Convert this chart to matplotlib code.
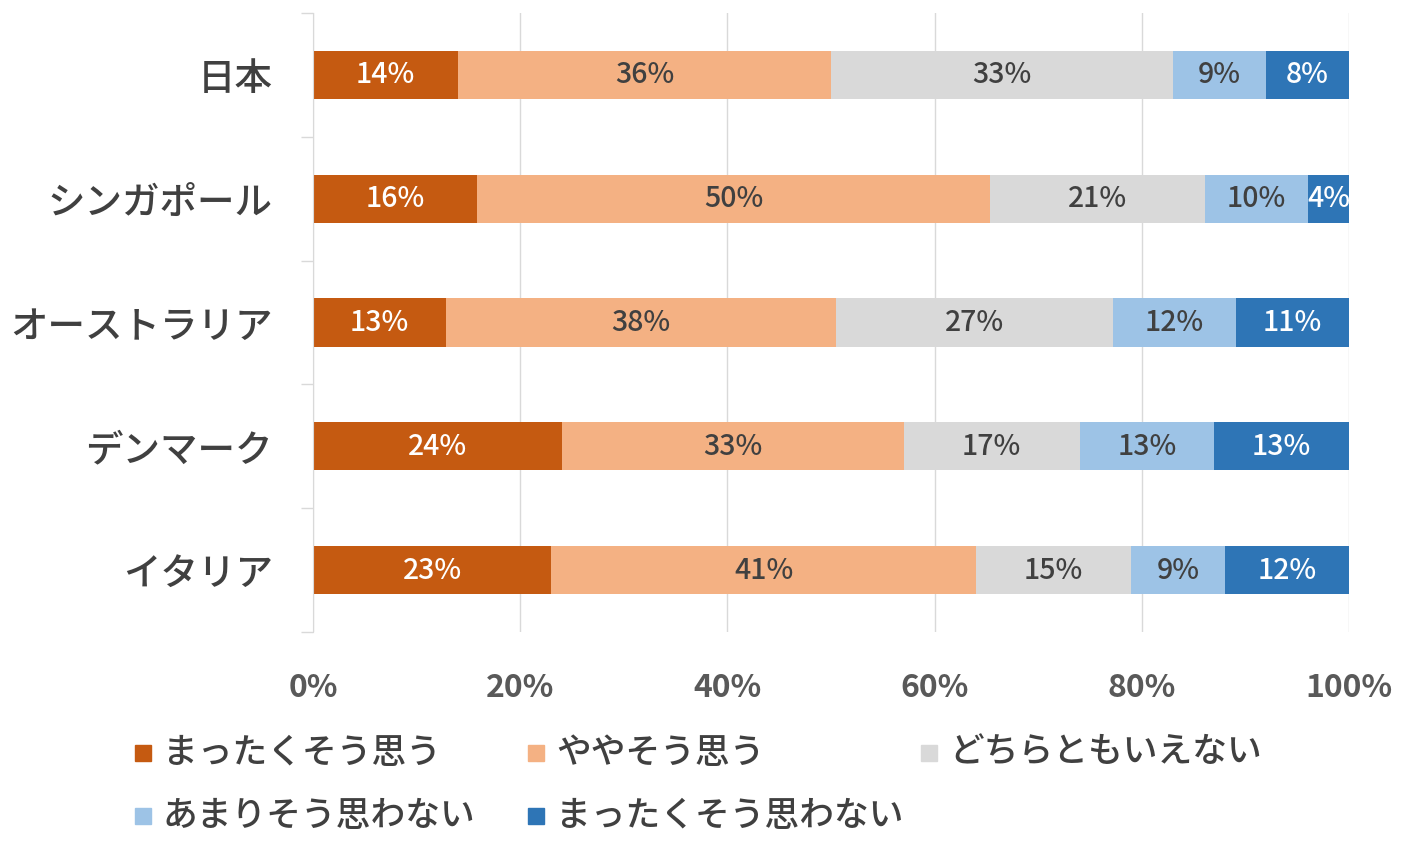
import numpy as np
import matplotlib.pyplot as plt
from matplotlib.patches import Rectangle

plt.rcParams['font.family'] = ['Noto Sans CJK JP', 'DejaVu Sans']

# データ（図から読み取った回答割合 %）
countries = ['日本', 'シンガポール', 'オーストラリア', 'デンマーク', 'イタリア']
series = ['まったくそう思う', 'ややそう思う', 'どちらともいえない', 'あまりそう思わない', 'まったくそう思わない']
strongly_agree = [14, 16, 13, 24, 23]
somewhat_agree = [36, 50, 38, 33, 41]
neutral = [33, 21, 27, 17, 15]
somewhat_disagree = [9, 10, 12, 13, 9]
strongly_disagree = [8, 4, 11, 13, 12]
xtick_values = [0, 20, 40, 60, 80, 100]

colors = ['#C55A11', '#F4B183', '#D9D9D9', '#9DC3E6', '#2E75B6']
label_colors = ['white', '#404040', '#404040', '#404040', 'white']

W, H = 1410, 852
fig = plt.figure(figsize=(W / 100, H / 100), dpi=100)
ax = fig.add_axes([313 / W, (H - 632) / H, (1349 - 313) / W, (632 - 13) / H])

data = np.array([strongly_agree, somewhat_agree, neutral, somewhat_disagree, strongly_disagree], dtype=float)
# 100%積み上げ（行ごとに正規化）
shares = data / data.sum(axis=0) * 100

y = np.arange(len(countries))
left = np.zeros(len(countries))
for i in range(len(series)):
    bars = ax.barh(y, shares[i], left=left, height=0.39, color=colors[i], zorder=2)
    for j, b in enumerate(bars):
        cx = b.get_x() + b.get_width() / 2
        ax.text(cx, y[j], f'{int(data[i, j])}%', ha='center', va='center',
                fontsize=20.5, fontweight='medium', color=label_colors[i], zorder=3)
    left += shares[i]

ax.set_xlim(0, 100)
ax.set_ylim(len(countries) - 0.5, -0.5)
ax.set_xticks(xtick_values)
ax.set_xticklabels([f'{v}%' for v in xtick_values], fontsize=23, fontweight='bold', color='#595959')
ax.set_yticks(y)
ax.set_yticklabels(countries, fontsize=27, fontweight='medium', color='#404040')
ax.set_yticks(np.arange(len(countries) + 1) - 0.5, minor=True)
ax.tick_params(axis='x', length=0, pad=29)
ax.tick_params(axis='y', which='major', length=0, pad=29)
ax.tick_params(axis='y', which='minor', length=9, color='#D9D9D9', width=1)
ax.xaxis.grid(True, color='#D9D9D9', lw=1, zorder=0)
ax.set_axisbelow(True)
for s in ['top', 'right', 'bottom']:
    ax.spines[s].set_visible(False)
ax.spines['left'].set_color('#D9D9D9')

# 凡例（3列、行方向に並べる）
for i, name in enumerate(series):
    row, col = divmod(i, 3)
    x0 = 135 + col * 393
    yc = 753 + row * 63
    fig.add_artist(Rectangle((x0 / W, (H - yc - 8) / H), 16 / W, 16 / H,
                             transform=fig.transFigure, color=colors[i]))
    fig.text((x0 + 28) / W, (H - yc) / H, name, fontsize=25, fontweight='medium',
             color='#404040', va='center')

fig.savefig('out.png', dpi=100)
